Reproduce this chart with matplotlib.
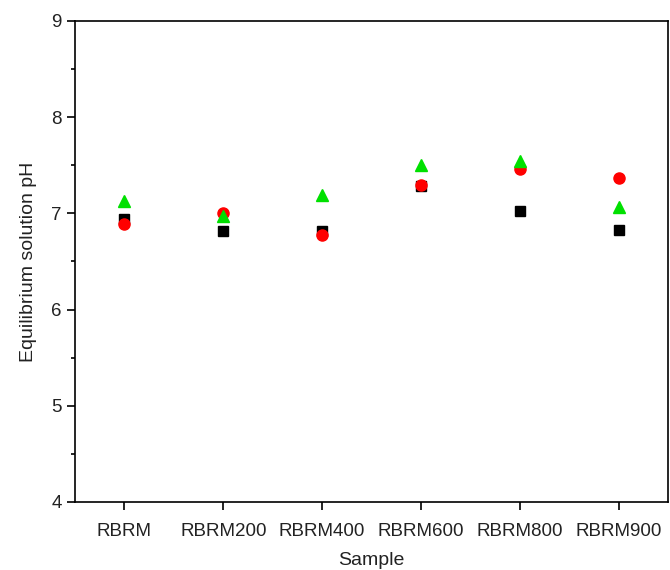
import numpy as np
import matplotlib
matplotlib.use('Agg')
import matplotlib.pyplot as plt
from matplotlib.ticker import MultipleLocator

plt.rcParams['font.family'] = ['Liberation Sans', 'DejaVu Sans']

samples = ['RBRM', 'RBRM200', 'RBRM400', 'RBRM600', 'RBRM800', 'RBRM900']
ph_black = [6.94, 6.82, 6.82, 7.28, 7.02, 6.83]
ph_red = [6.89, 7.00, 6.78, 7.30, 7.46, 7.37]
ph_green = [7.13, 6.97, 7.19, 7.50, 7.54, 7.07]

x = np.arange(1, len(samples) + 1)

fig = plt.figure(figsize=(6.7, 5.7), dpi=100)
ax = fig.add_axes([75 / 670, 1 - 502 / 570, 593 / 670, 481 / 570])

ax.plot(x, ph_black, 's', color='black', markersize=7, linestyle='none')
ax.plot(x, ph_red, 'o', color='#ff0000', markersize=8, linestyle='none')
ax.plot(x, ph_green, '^', color='#00e000', markersize=9, linestyle='none')

ax.set_xlim(0.5, 6.5)
ax.set_ylim(4, 9)
ax.set_xticks(x)
ax.set_xticklabels(samples, fontsize=13.5, color='#222222')
ax.yaxis.set_major_locator(MultipleLocator(1))
ax.yaxis.set_minor_locator(MultipleLocator(0.5))
ax.tick_params(axis='y', labelsize=13.5, labelcolor='#222222', direction='out', length=6, width=1.2)
ax.tick_params(axis='y', which='minor', direction='out', length=3, width=1.2)
ax.tick_params(axis='x', direction='out', length=6, width=1.2, pad=9)
for s in ax.spines.values():
    s.set_linewidth(1.2)

ax.set_ylabel('Equilibrium solution pH', fontsize=14, color='#222222', labelpad=10)
ax.set_xlabel('Sample', fontsize=14, color='#222222', labelpad=9)

fig.savefig('out.png', dpi=100)
